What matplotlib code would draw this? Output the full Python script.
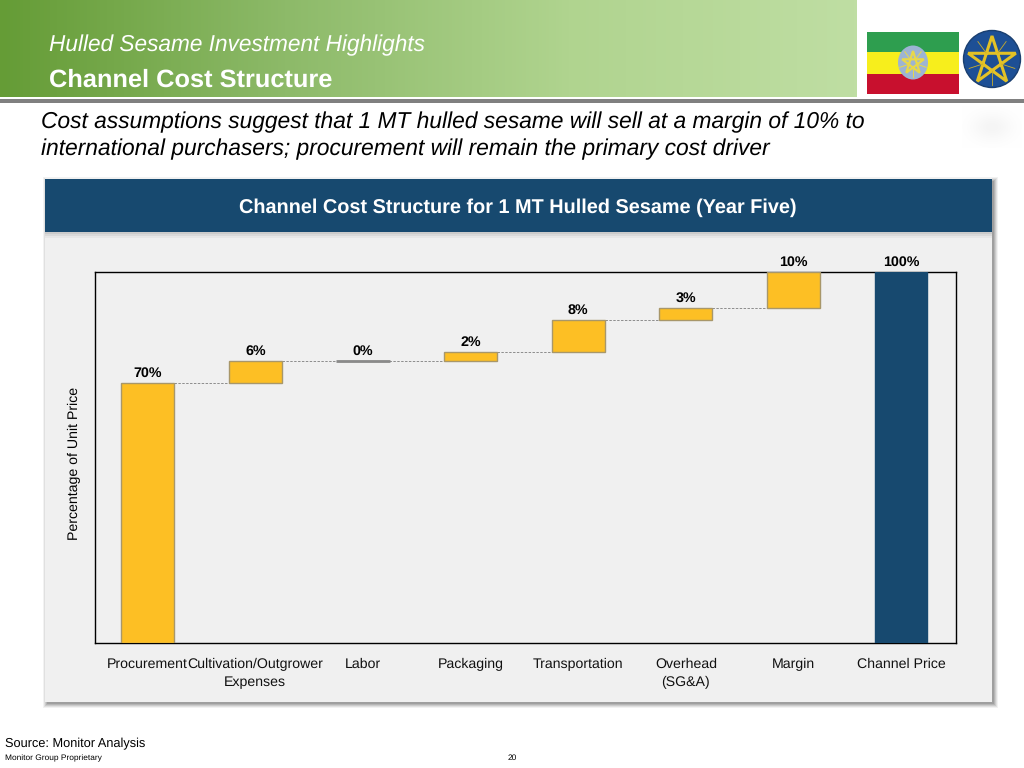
import numpy as np
import matplotlib
matplotlib.use('Agg')
import matplotlib.pyplot as plt
from matplotlib.patches import Rectangle, Circle, Ellipse, Polygon
from matplotlib.colors import LinearSegmentedColormap

plt.rcParams['font.family'] = ['Liberation Sans', 'DejaVu Sans']
plt.rcParams['text.hinting'] = 'no_hinting'

# data
categories = ['Procurement', 'Cultivation/Outgrower\nExpenses', 'Labor', 'Packaging',
              'Transportation', 'Overhead\n(SG&A)', 'Margin', 'Channel Price']
heights = [70, 6, 0, 2.4, 8.6, 3.3, 9.7, 100]
labels = ['70%', '6%', '0%', '2%', '8%', '3%', '10%', '100%']
bar_colors = ['#fdbf24'] * 7 + ['#17496f']
edge_colors = ['#a8976a'] * 7 + ['#17496f']

fig = plt.figure(figsize=(10.24, 7.68), dpi=100, facecolor='white')

# background layer in pixels
bg = fig.add_axes([0, 0, 1, 1])
bg.axis('off')

# header
cmap = LinearSegmentedColormap.from_list('hdr', ['#659c36', '#8dba69', '#b0d48f', '#bfdea3'])
bg.imshow(np.linspace(0, 1, 256).reshape(1, -1), extent=(0, 857, 97, 0), cmap=cmap, aspect='auto')
bg.add_patch(Rectangle((0, 99), 1024, 3.5, fc='#808080', ec='none'))
bg.text(49, 45, 'Hulled Sesame Investment Highlights', fontsize=16.3, style='italic', color='white', va='center')
bg.text(49, 80, 'Channel Cost Structure', fontsize=18.3, weight='bold', color='white', va='center')

# flag
bg.add_patch(Rectangle((867, 32), 92, 20, fc='#2e9e4f', ec='none'))
bg.add_patch(Rectangle((867, 52), 92, 22, fc='#f7ee1c', ec='none'))
bg.add_patch(Rectangle((867, 74), 92, 20, fc='#c8102e', ec='none'))
bg.add_patch(Ellipse((913, 62.5), 30, 34, fc='#9db4d3', ec='none'))


def star(cx, cy, r, sx=1.0):
    ang = np.deg2rad(-90 + 144 * np.arange(6))
    return np.column_stack([cx + r * sx * np.cos(ang), cy + r * np.sin(ang)])


def rays(cx, cy, r0, r1, color, lw):
    for a in np.deg2rad(-54 + 72 * np.arange(5)):
        bg.plot([cx + r0 * np.cos(a), cx + r1 * np.cos(a)], [cy + r0 * np.sin(a), cy + r1 * np.sin(a)], color=color, lw=lw)


bg.add_patch(Polygon(star(913, 63, 12, 0.95), closed=True, fc='none', ec='#e8d84a', lw=1.6))
rays(913, 63, 6, 14, '#e8d84a', 0.7)

# emblem
bg.add_patch(Circle((992, 59), 28.5, fc='#1d4f95', ec='#1a3f70', lw=1))
bg.add_patch(Polygon(star(992, 61, 25), closed=True, fc='none', ec='#e3c126', lw=2.2))
rays(992, 61, 10, 24, '#c9ad2c', 0.6)

# faint smudge right of the heading
yy, xx = np.mgrid[-1:1:40j, -1:1:60j]
smudge = np.exp(-(xx ** 2 + yy ** 2) * 2.2)
bg.imshow(np.dstack([np.full_like(smudge, 0.93)] * 3 + [smudge * 0.55]), extent=(962, 1022, 148, 106), aspect='auto')

# subtitle
bg.text(41, 122.5, 'Cost assumptions suggest that 1 MT hulled sesame will sell at a margin of 10% to',
        fontsize=16.35, style='italic', color='black', va='center')
bg.text(41, 149, 'international purchasers; procurement will remain the primary cost driver',
        fontsize=16.35, style='italic', color='black', va='center')

# panel + soft shadow
for grow, a in zip([5, 4, 3, 2, 1], [0.08, 0.12, 0.16, 0.2, 0.25]):
    bg.add_patch(Rectangle((48 - grow, 182 - grow), 945 + 2 * grow, 521 + 2 * grow, fc='#606060', ec='none', alpha=a))
bg.add_patch(Rectangle((45, 178), 947, 524, fc='#f0f0f0', ec='none'))
for grow, a in zip([6, 4, 2], [0.06, 0.09, 0.12]):
    bg.add_patch(Rectangle((45, 232), 947, grow, fc='#606060', ec='none', alpha=a))
bg.add_patch(Rectangle((45, 179), 947, 53, fc='#17496f', ec='none'))
bg.text(518, 208, 'Channel Cost Structure for 1 MT Hulled Sesame (Year Five)',
        fontsize=14.3, weight='bold', color='white', ha='center', va='center')

# y label
bg.text(74.5, 463, 'Percentage of Unit Price', fontsize=10.2, color='black', rotation=90, ha='center', va='center')

# footer
bg.text(5, 744, 'Source: Monitor Analysis', fontsize=9.2, color='black', va='center')
bg.text(5, 758, 'Monitor Group Proprietary', fontsize=6.05, color='black', va='center')
bg.text(512, 758, '20', fontsize=6, color='black', ha='center', va='center')

bg.set_xlim(0, 1024)
bg.set_ylim(768, 0)

# waterfall
ax = fig.add_axes([95 / 1024, 1 - 643 / 768, 861 / 1024, 371 / 768])
ax.patch.set_alpha(0)
x = np.arange(len(categories))
bottoms = list(np.cumsum([0] + heights[:6])) + [0]
tops = [b + h for b, h in zip(bottoms, heights)]
bottoms[6] = 100 - heights[6]
tops[6] = 100
ax.bar(x, heights, width=0.49, bottom=bottoms, color=bar_colors, edgecolor=edge_colors, linewidth=1, zorder=3)
ax.plot([x[2] - 0.25, x[2] + 0.25], [tops[2], tops[2]], color='#8a8a8a', lw=2, zorder=4, solid_capstyle='butt')

# connectors
for i in range(len(x) - 1):
    ax.plot([x[i] + 0.245, x[i + 1] - 0.245], [tops[i], tops[i]], color='#8c8c8c', lw=0.7, ls=(0, (2.5, 1.5)), zorder=2, clip_on=False)

for i in range(len(x)):
    ax.annotate(labels[i], (x[i], tops[i]), xytext=(0, 2.5), textcoords='offset points', ha='center', va='bottom',
                fontsize=10.3, weight='bold', color='black', annotation_clip=False)

ax.set_xlim(-0.49, 7.51)
ax.set_ylim(0, 100)
ax.set_yticks([])
ax.set_xticks(x)
ax.set_xticklabels(categories, fontsize=10.2, color='#111111', linespacing=1.45, va='top')
ax.tick_params(axis='x', length=0, pad=10.7)
for s in ax.spines.values():
    s.set_color('black')
    s.set_linewidth(1)

fig.savefig('out.png', dpi=100)
